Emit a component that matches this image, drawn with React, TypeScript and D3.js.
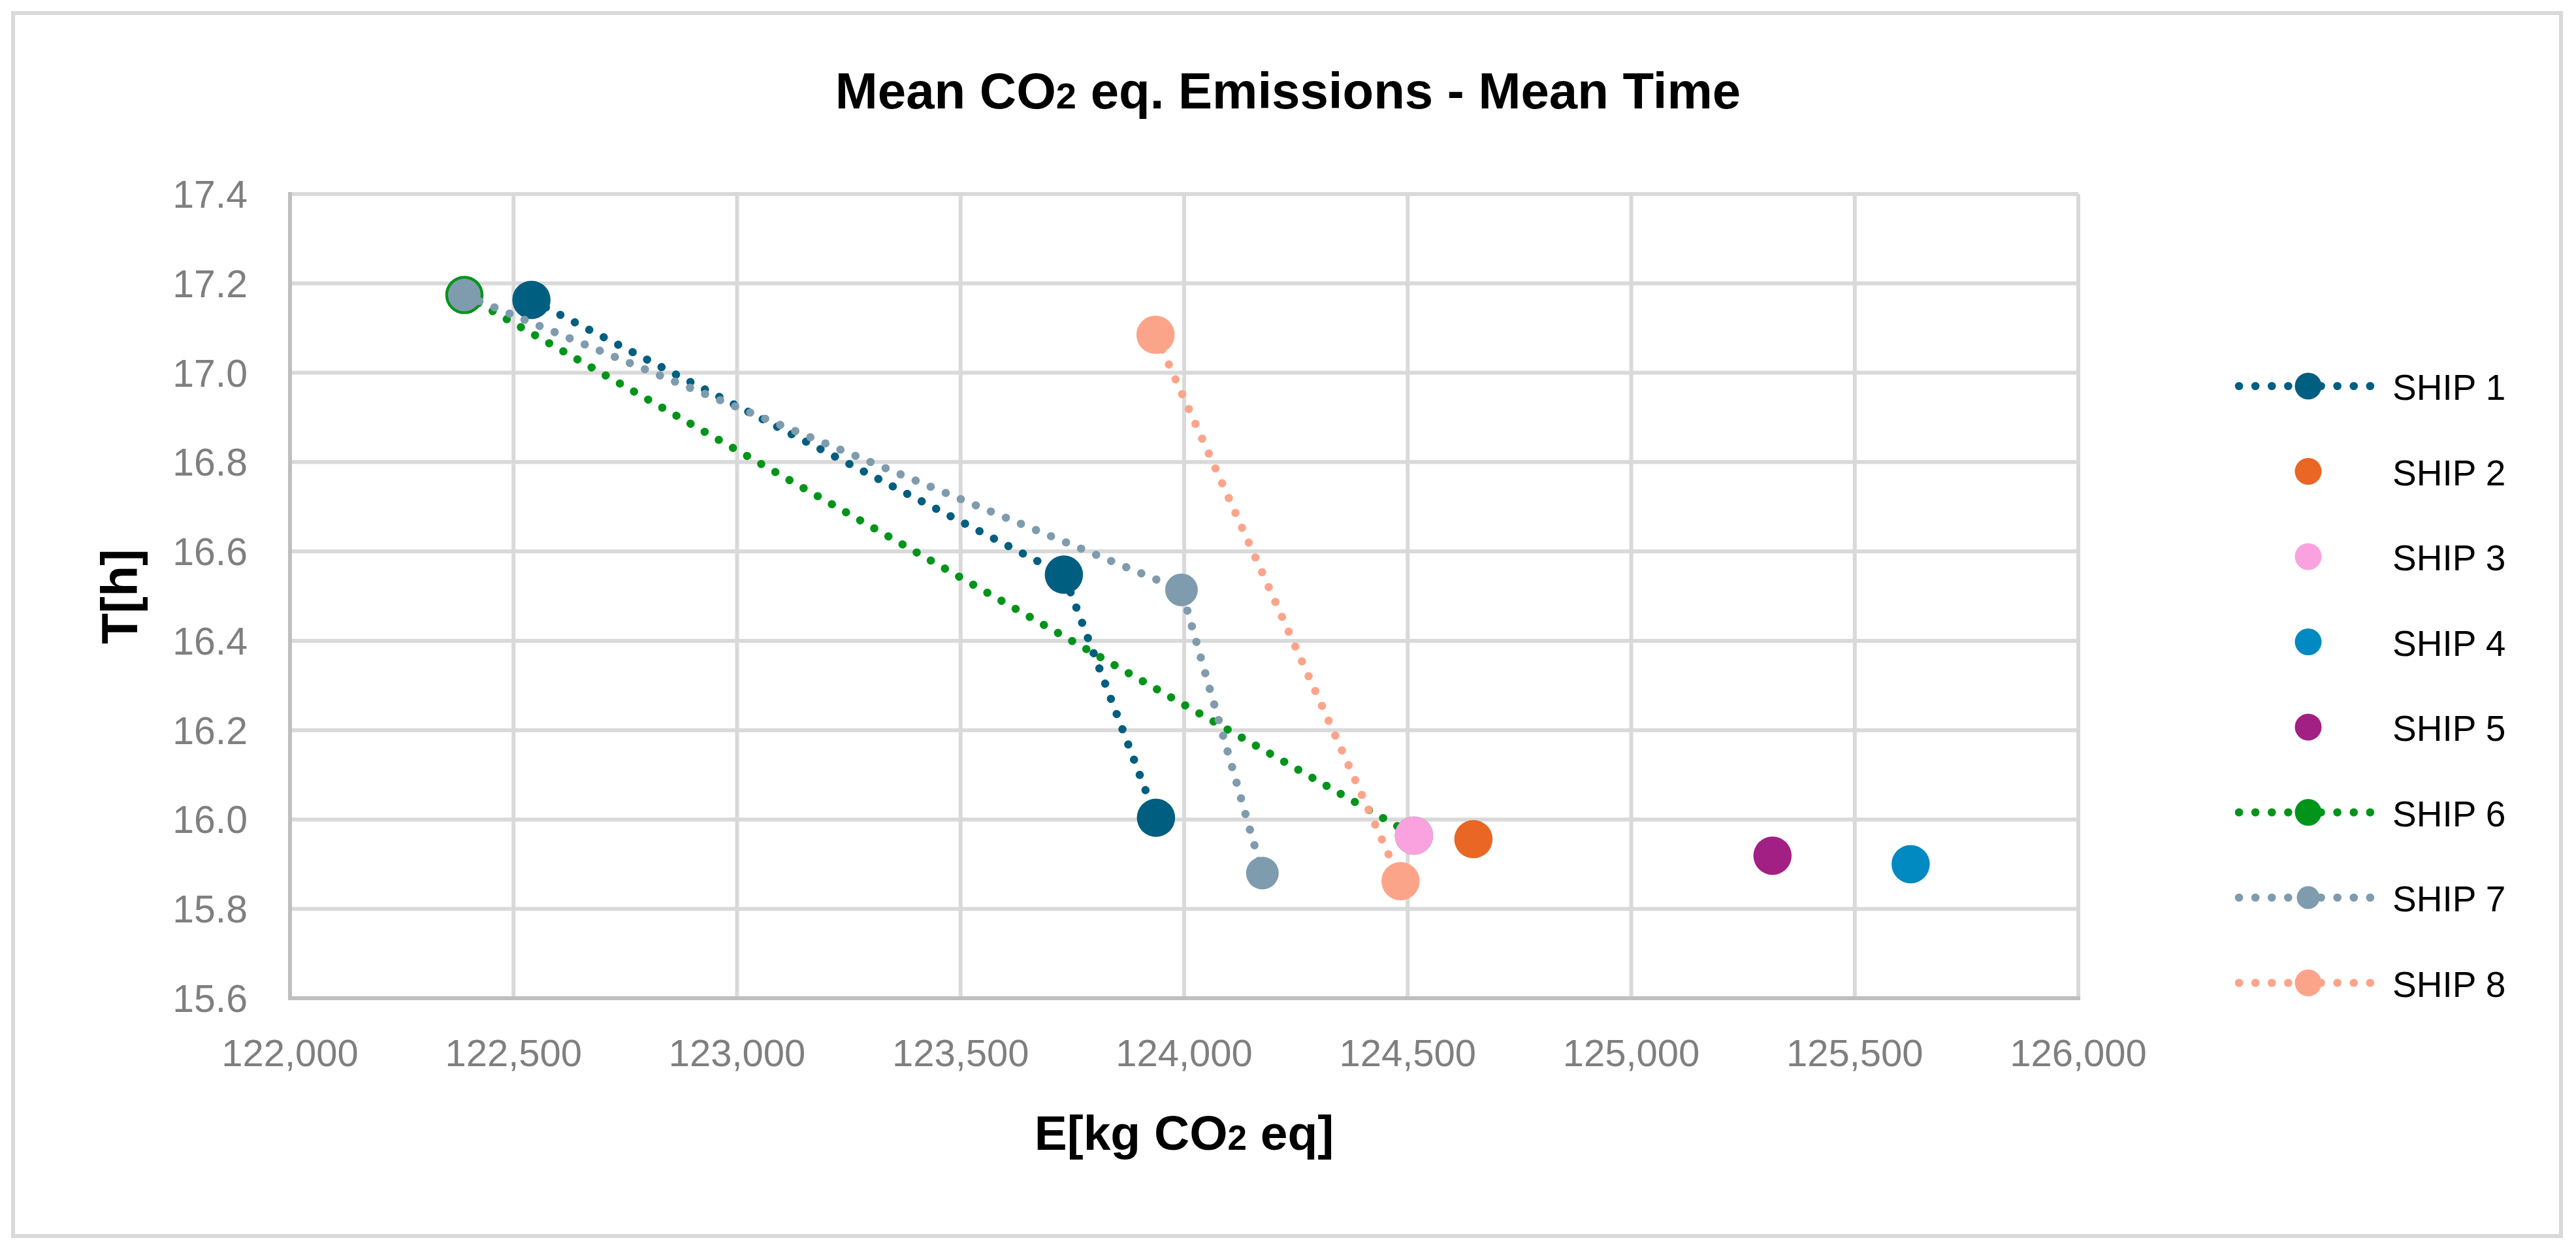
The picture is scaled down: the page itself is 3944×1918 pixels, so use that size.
import React from "react";
import * as d3 from "d3";

type Pt = [number, number];

const shipNames = ["SHIP 1", "SHIP 2", "SHIP 3", "SHIP 4", "SHIP 5", "SHIP 6", "SHIP 7", "SHIP 8"];
const shipColors = ["#005E80", "#E96624", "#FAA2E0", "#0189C1", "#A21F84", "#00941A", "#7F9BAE", "#FCA48A"];
const shipHasLine = [true, false, false, false, false, true, true, true];

const ship1: Pt[] = [[122540, 17.163], [123731, 16.548], [123937, 16.004]];
const ship2: Pt[] = [[124647, 15.956]];
const ship3: Pt[] = [[124514, 15.964]];
const ship4: Pt[] = [[125625, 15.900]];
const ship5: Pt[] = [[125316, 15.919]];
const ship6: Pt[] = [[122390, 17.174], [124514, 15.964]];
const ship7: Pt[] = [[122390, 17.174], [123994, 16.514], [124175, 15.880]];
const ship8: Pt[] = [[123936, 17.085], [124484, 15.862]];
const shipData: Pt[][] = [ship1, ship2, ship3, ship4, ship5, ship6, ship7, ship8];

// drawing (z) order of the series
const drawOrder = [5, 0, 1, 2, 3, 4, 6, 7];

const xTicks = [122000, 122500, 123000, 123500, 124000, 124500, 125000, 125500, 126000];
const yTicks = [15.6, 15.8, 16.0, 16.2, 16.4, 16.6, 16.8, 17.0, 17.2, 17.4];

const W = 3944;
const H = 1918;
const FONT = "'Liberation Sans', Arial, sans-serif";

export default function App() {
  const x = d3.scaleLinear().domain([122000, 126000]).range([444, 3182]);
  const y = d3.scaleLinear().domain([15.6, 17.4]).range([1528, 297]);
  const line = d3.line<Pt>().x((d) => x(d[0])).y((d) => y(d[1]));
  const fx = d3.format(",");
  const fy = d3.format(".1f");

  const markerR = (i: number) => (i === 6 ? 25 : 29.3);
  const legendR = (i: number) => (i === 6 ? 17.5 : 20.5);
  const legendY = d3.scaleLinear().domain([0, 7]).range([591, 1504.5]);

  return (
    <svg
      width={W}
      height={H}
      viewBox={`0 0 ${W} ${H}`}
      style={{ position: "absolute", left: 0, top: 0, background: "#fff" }}
      fontFamily={FONT}
    >
      <rect x={0} y={0} width={W} height={H} fill="#fff" />
      <rect x={20} y={20} width={3901} height={1872} fill="#fff" stroke="#D9D9D9" strokeWidth={6} />

      {/* title */}
      <text x={1972} y={166} textAnchor="middle" fontSize={78} fontWeight="bold" fill="#000">
        Mean CO<tspan fontSize={56}>2</tspan> eq. Emissions - Mean Time
      </text>

      {/* gridlines */}
      {xTicks.map((t) => (
        <line key={"gx" + t} x1={x(t)} x2={x(t)} y1={y(17.4)} y2={y(15.6)} stroke="#D9D9D9" strokeWidth={6} />
      ))}
      {yTicks.map((t) => (
        <line key={"gy" + t} x1={x(122000)} x2={x(126000)} y1={y(t)} y2={y(t)} stroke="#D9D9D9" strokeWidth={6} />
      ))}
      {/* axes */}
      <line x1={x(122000)} x2={x(122000)} y1={y(17.4) - 3} y2={y(15.6) + 3} stroke="#BFBFBF" strokeWidth={6} />
      <line x1={x(122000) - 3} x2={x(126000) + 3} y1={y(15.6)} y2={y(15.6)} stroke="#BFBFBF" strokeWidth={6} />

      {/* tick labels */}
      {xTicks.map((t) => (
        <text key={"tx" + t} x={x(t)} y={1632} textAnchor="middle" fontSize={58} fill="#7F7F7F">
          {fx(t)}
        </text>
      ))}
      {yTicks.map((t) => (
        <text key={"ty" + t} x={379} y={y(t) + 21} textAnchor="end" fontSize={59} fill="#7F7F7F">
          {fy(t)}
        </text>
      ))}

      {/* axis titles */}
      <text x={1813} y={1760} textAnchor="middle" fontSize={75} fontWeight="bold" fill="#000">
        E[kg CO<tspan fontSize={53}>2</tspan> eq]
      </text>
      <text
        transform={`translate(210, 913) rotate(-90)`}
        textAnchor="middle"
        fontSize={77}
        fontWeight="bold"
        fill="#000"
      >
        T[h]
      </text>

      {/* series */}
      {drawOrder.map((i) => (
        <g key={"s" + i}>
          {shipHasLine[i] && (
            <path
              d={line(shipData[i]) || ""}
              fill="none"
              stroke={shipColors[i]}
              strokeWidth={12.5}
              strokeLinecap="round"
              strokeDasharray="0.1 24.8"
            />
          )}
          {shipData[i].map((p, k) => (
            <circle key={k} cx={x(p[0])} cy={y(p[1])} r={markerR(i)} fill={shipColors[i]} />
          ))}
        </g>
      ))}

      {/* legend */}
      {shipNames.map((name, i) => {
        const cy = legendY(i);
        return (
          <g key={"lg" + i}>
            {shipHasLine[i] && (
              <line
                x1={3428}
                x2={3630}
                y1={cy}
                y2={cy}
                stroke={shipColors[i]}
                strokeWidth={12.5}
                strokeLinecap="round"
                strokeDasharray="0.1 25"
              />
            )}
            <circle cx={3534} cy={cy} r={legendR(i)} fill={shipColors[i]} />
            <text x={3663} y={cy + 21} fontSize={55} fill="#000">
              {name}
            </text>
          </g>
        );
      })}
    </svg>
  );
}
